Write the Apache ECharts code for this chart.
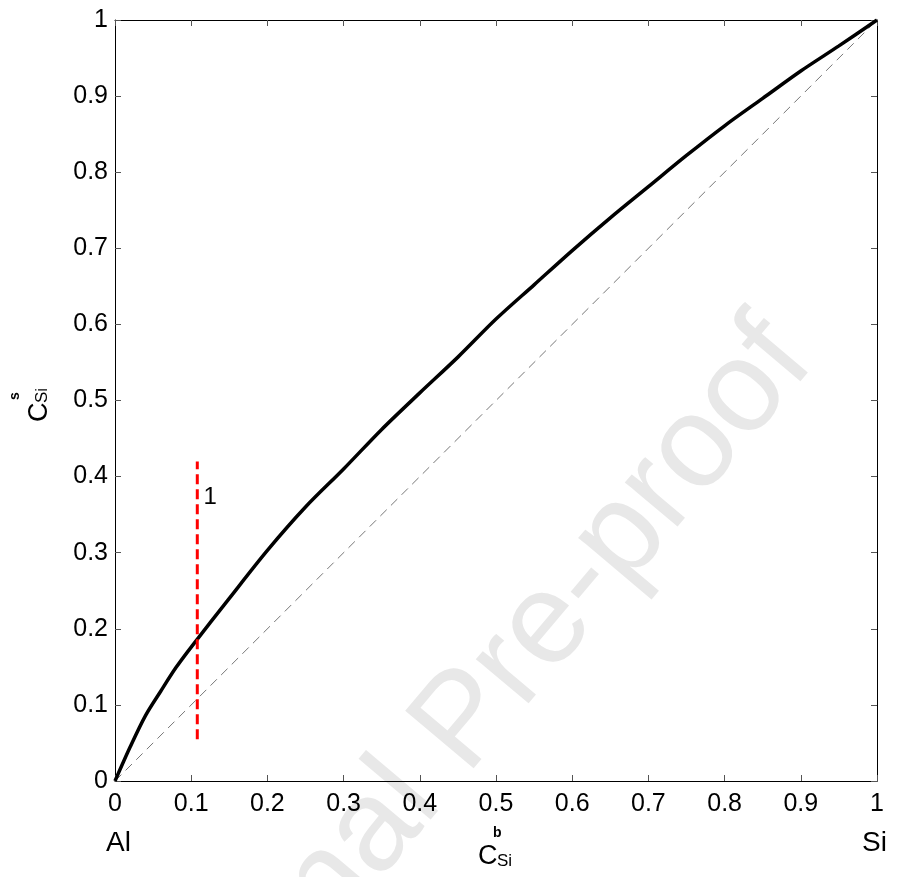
<!DOCTYPE html>
<html>
<head>
<meta charset="utf-8">
<script src="https://cdn.jsdelivr.net/npm/echarts@6/dist/echarts.min.js"></script>
<style>
  html, body { margin: 0; padding: 0; background: #fff; }
  #chart { width: 900px; height: 877px; }
</style>
</head>
<body>
<div id="chart"></div>
<script>
  // bulk concentration of Si (x) vs surface concentration of Si (y)
  const cBulk = [0, 0.02, 0.04, 0.06, 0.08, 0.1, 0.15, 0.2, 0.25, 0.3, 0.35, 0.4, 0.45, 0.5,
                 0.55, 0.6, 0.65, 0.7, 0.75, 0.8, 0.85, 0.9, 0.95, 1];
  const cSurf = [0, 0.045, 0.086, 0.118, 0.149, 0.176, 0.24, 0.303, 0.36, 0.41, 0.462, 0.51, 0.557, 0.607,
                 0.652, 0.697, 0.74, 0.781, 0.822, 0.861, 0.897, 0.933, 0.966, 1];
  // ideal (y = x) reference
  const idealX = [0, 1];
  const idealY = [0, 1];
  // marker line 1
  const markX = [0.108, 0.108];
  const markY = [0.055, 0.42];
  const markLabel = { x: 0.125, y: 0.373, text: '1' };

  const zip = (a, b) => a.map((v, i) => [v, b[i]]);
  const font = 'Liberation Sans, Arial, sans-serif';

  const chart = echarts.init(document.getElementById('chart'));

  const baseAxis = {
    type: 'value', min: 0, max: 1, interval: 0.1,
    axisLine: { show: true, onZero: false, lineStyle: { color: '#000', width: 1 } },
    axisTick: { show: true, inside: true, length: 6, lineStyle: { color: '#555' } },
    splitLine: { show: false }
  };

  const option = {
    animation: false,
    backgroundColor: '#fff',
    grid: { left: 115, right: 23, top: 20, bottom: 96 },
    xAxis: [
      Object.assign({}, baseAxis, {
        position: 'bottom',
        axisLabel: { color: '#000', fontSize: 25, fontFamily: font, margin: 11 }
      }),
      Object.assign({}, baseAxis, { position: 'top', axisLabel: { show: false } })
    ],
    yAxis: [
      Object.assign({}, baseAxis, {
        position: 'left',
        axisLabel: { color: '#000', fontSize: 25, fontFamily: font, margin: 7 }
      }),
      Object.assign({}, baseAxis, { position: 'right', axisLabel: { show: false } })
    ],
    series: [
      {
        type: 'line', data: zip(idealX, idealY), symbol: 'none', z: 2,
        lineStyle: { color: '#777', width: 1, type: [9, 6] }
      },
      {
        type: 'line', data: zip(cBulk, cSurf), symbol: 'none', smooth: 0.3, z: 3,
        lineStyle: { color: '#000', width: 3.5 }
      },
      {
        type: 'line', data: zip(markX, markY), symbol: 'none', z: 4,
        lineStyle: { color: '#ff0000', width: 3, type: [10, 5] }
      },
      {
        type: 'scatter', data: [[markLabel.x, markLabel.y]], symbolSize: 0,
        itemStyle: { opacity: 1 },
        label: {
          show: true, position: 'inside', formatter: markLabel.text,
          color: '#000', fontSize: 24, fontFamily: font
        }
      }
    ],
    graphic: [
      {
        type: 'text', z: -10, silent: true,
        x: 465, y: 723, rotation: 0.87,
        style: { text: 'Journal Pre-proof', font: '130px ' + font, fill: '#e8e8e8', align: 'center', verticalAlign: 'middle' }
      },
      { type: 'text', x: 106, y: 829, style: { text: 'Al', font: '28px ' + font, fill: '#000' } },
      { type: 'text', x: 862, y: 829, style: { text: 'Si', font: '28px ' + font, fill: '#000' } },
      { type: 'text', x: 478, y: 843, style: { text: 'C', font: '27px ' + font, fill: '#000' } },
      { type: 'text', x: 497, y: 853, style: { text: 'Si', font: '17px ' + font, fill: '#000' } },
      { type: 'text', x: 493, y: 826, style: { text: 'b', font: 'bold 14px ' + font, fill: '#000' } },
      {
        type: 'group', x: 26, y: 422, rotation: Math.PI / 2,
        children: [
          { type: 'text', x: 0, y: 0, style: { text: 'C', font: '27px ' + font, fill: '#000' } },
          { type: 'text', x: 19, y: 8, style: { text: 'Si', font: '17px ' + font, fill: '#000' } },
          { type: 'text', x: 22, y: -18, style: { text: 's', font: 'bold 14px ' + font, fill: '#000' } }
        ]
      }
    ]
  };

  chart.setOption(option);
</script>
</body>
</html>
